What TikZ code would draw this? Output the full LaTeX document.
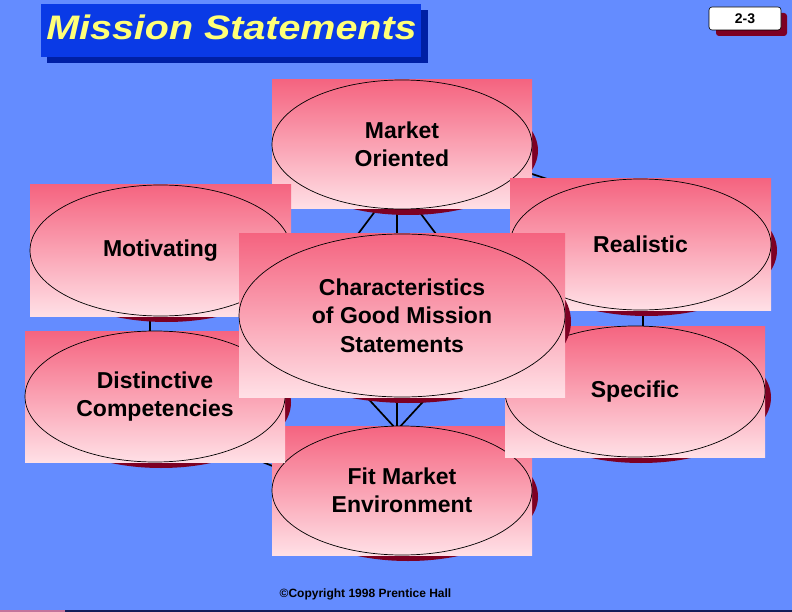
\documentclass[tikz,border=0pt]{standalone}
\usepackage{fontspec}
\setmainfont{Liberation Sans}
\usepackage{graphicx}
\usetikzlibrary{shapes.geometric}
\definecolor{bgblue}{RGB}{100,140,255}
\definecolor{titleblue}{RGB}{10,58,230}
\definecolor{titleshadow}{RGB}{0,32,165}
\definecolor{titleyellow}{RGB}{255,255,120}
\definecolor{shadowred}{RGB}{125,0,35}
\definecolor{pinktop}{RGB}{245,100,128}
\definecolor{pinkbot}{RGB}{255,224,230}
\definecolor{stripink}{RGB}{195,115,155}
\definecolor{stripnavy}{RGB}{20,30,90}
\pgfdeclarelayer{bglayer}
\pgfdeclarelayer{linelayer}
\pgfsetlayers{bglayer,linelayer,main}
\tikzset{
  card/.style={rectangle, inner sep=0pt, outer sep=0pt, draw=none, top color=pinktop, bottom color=pinkbot},
  oval/.style={ellipse, inner sep=0pt, outer sep=0pt, draw=black, line width=0.7pt, align=center,
    font=\fontsize{23}{28.5}\selectfont\bfseries},
  conn/.style={draw=black, line width=1.7pt},
}
\newcommand\bubblenode[6]{%
  \fill[shadowred] (#2+6,#3+6) ellipse [x radius=#4pt/2, y radius=#5pt/2];
  \node[card, minimum width=#4pt, minimum height=#5pt] (#1-card) at (#2,#3) {};
  \node[oval, minimum width=#4pt, minimum height=#5pt] (#1) at (#2,#3) {#6};
}
\begin{document}
\begin{tikzpicture}[x=1pt, y=-1pt]
\useasboundingbox (0,0) rectangle (792,612);
\begin{pgfonlayer}{bglayer}
  \fill[bgblue] (0,0) rectangle (792,612);
  \fill[stripink] (0,609.5) rectangle (65,612);
  \fill[stripnavy] (65,609.5) rectangle (792,612);
\end{pgfonlayer}

% title
\fill[titleshadow] (47,10) rectangle (428,63);
\fill[titleblue] (41,4) rectangle (421,57);
\node[anchor=base, text=titleyellow, inner sep=0pt,
  font=\fontsize{34}{40}\selectfont\bfseries\itshape] (title) at (231.5,40)
  {\scalebox{1.16}[1]{Mission Statements}};

% page label
\fill[shadowred, rounded corners=3pt] (716,13) rectangle (787,36);
\node[draw=black, fill=white, rounded corners=3pt, line width=0.6pt, inner sep=0pt,
  minimum width=72pt, minimum height=23pt,
  font=\fontsize{14}{16}\selectfont\bfseries] (pagelabel) at (745,18.5) {2-3};

% connector end points
\coordinate (mo-hub) at (397,182);
\coordinate (ch-hub) at (397,315);
\coordinate (fm-hub) at (397,430);
\coordinate (dc-end) at (239.5,392);
\coordinate (sp-end) at (554.5,392);
\coordinate (mv-end) at (231.4,250);
\coordinate (re-end) at (562.6,250);
\coordinate (mv-hub) at (150,250);
\coordinate (dc-hub) at (150,396);
\coordinate (re-hub) at (643,244);
\coordinate (sp-hub) at (643,391);
\coordinate (mo-side) at (470,153.5);
\coordinate (re-side) at (600,196.4);
\coordinate (dc-side) at (200,437);
\coordinate (fm-side) at (330,489);

% nodes
\bubblenode{mo}{402}{144.5}{260}{129}{Market\\Oriented}
\bubblenode{fm}{402}{490.5}{260}{129}{Fit Market\\Environment}
\bubblenode{mv}{160.5}{250.5}{261}{131}{Motivating}
\bubblenode{re}{640.5}{244.5}{261}{131}{Realistic}
\bubblenode{dc}{155}{396.5}{260}{131}{Distinctive\\Competencies}
\bubblenode{sp}{635}{391.5}{260}{131}{Specific}
\bubblenode{ch}{402}{315.5}{326}{163}{Characteristics\\of Good Mission\\Statements}

% connectors
\begin{pgfonlayer}{linelayer}
  \draw[conn] (mo-hub) -- (ch-hub);
  \draw[conn] (ch-hub) -- (fm-hub);
  \draw[conn] (mo-hub) -- (dc-end);
  \draw[conn] (mo-hub) -- (sp-end);
  \draw[conn] (fm-hub) -- (mv-end);
  \draw[conn] (fm-hub) -- (re-end);
  \draw[conn] (mv-hub) -- (dc-hub);
  \draw[conn] (re-hub) -- (sp-hub);
  \draw[conn] (mo-side) -- (re-side);
  \draw[conn] (dc-side) -- (fm-side);
\end{pgfonlayer}

% footer
\node[anchor=base, inner sep=0pt, font=\fontsize{12}{14}\selectfont\bfseries] (copyright)
  at (365.5,597) {©Copyright 1998 Prentice Hall};
\end{tikzpicture}
\end{document}
